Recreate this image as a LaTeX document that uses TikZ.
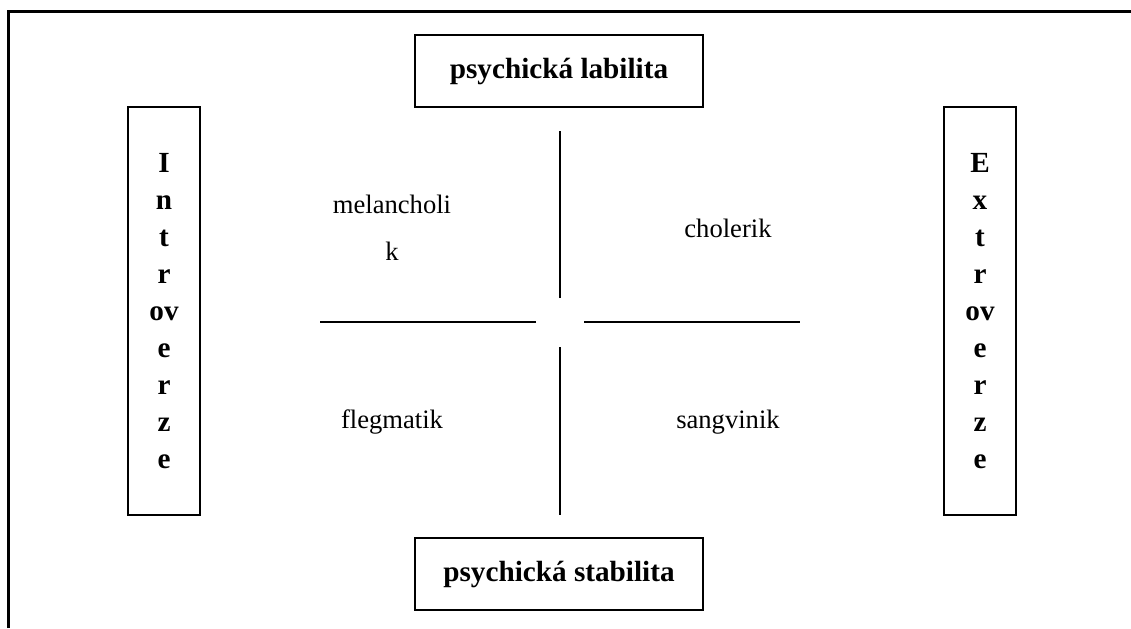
\documentclass[tikz,border=0pt]{standalone}
\usepackage{fontspec}
\setmainfont{Liberation Serif}
\usetikzlibrary{positioning}

\tikzset{
    box/.style={draw, line width=1pt, inner sep=0pt, align=center},
    boxfont/.style={font=\bfseries\fontsize{14.6}{18.5}\selectfont},
    axis/.style={line width=1pt},
    typ/.style={font=\fontsize{13.3}{23.5}\selectfont, align=center}
}

\begin{document}
\begin{tikzpicture}[x=0.5pt, y=-0.5pt]
    \useasboundingbox (0,0) rectangle (1131,628);

    % Frame
    \draw [line width=1.5pt] (8,628) -- (8,11) -- (1131,11);

    % Labilita / Stabilita
    \node [box, boxfont, minimum width=144pt, minimum height=36pt] (labil) at (559,71) {psychická labilita};
    \node [box, boxfont, minimum width=144pt, minimum height=36pt, below=214.5pt of labil] (stabil) {psychická stabilita};

    % Introverze / Extroverze
    \node [box, boxfont, minimum width=36pt, minimum height=204pt] (intro) at (164,311) {I\\n\\t\\r\\ov\\e\\r\\z\\e};
    \node [box, boxfont, minimum width=36pt, minimum height=204pt, right=371pt of intro] (extro) {E\\x\\t\\r\\ov\\e\\r\\z\\e};

    % Cross
    \coordinate (mid) at (560,322);
    \draw [axis] (mid) ++(0,-24) -- ++(0,-167);
    \draw [axis] (mid) ++(0,25) -- ++(0,168);
    \draw [axis] (mid) ++(-24,0) -- ++(-216,0);
    \draw [axis] (mid) ++(24,0) -- ++(216,0);

    % Temperaments
    \node [typ] (melan) at (392,228) {melancholi\\k};
    \node [typ] (chol) at (728,228) {cholerik};
    \node [typ] (fleg) at (392,422) {flegmatik};
    \node [typ] (sang) at (728,422) {sangvinik};
\end{tikzpicture}
\end{document}
